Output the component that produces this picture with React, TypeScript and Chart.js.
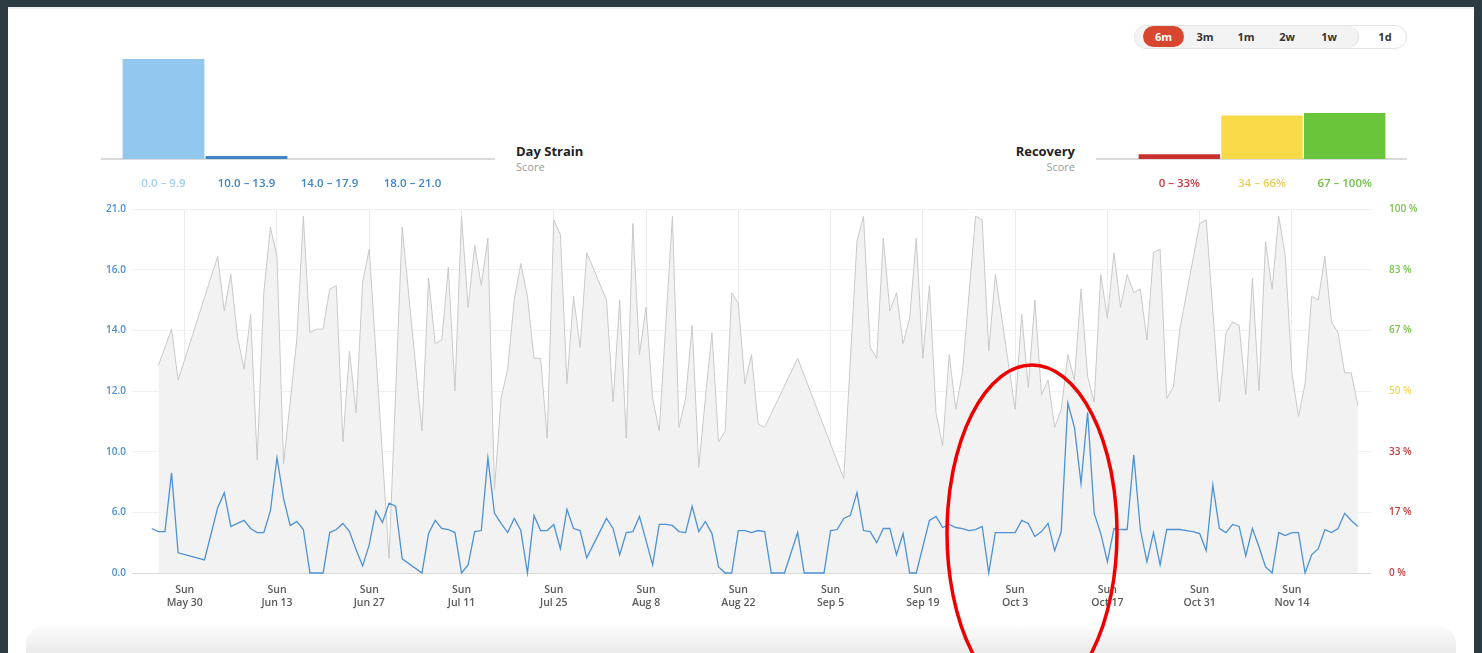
import React, { useEffect, useRef } from 'react';
import { Chart, registerables, LinearScale } from 'chart.js';

Chart.register(...registerables);

const FONT = "'Open Sans', 'Noto Sans', sans-serif";

// ---------- histogram data ----------
const STRAIN_BUCKETS = ['0.0 – 9.9', '10.0 – 13.9', '14.0 – 17.9', '18.0 – 21.0'];
const STRAIN_COUNTS = [170, 5, 0, 0];
const RECOVERY_BUCKETS = ['0 – 33%', '34 – 66%', '67 – 100%'];
const RECOVERY_COUNTS = [8, 74, 78];
const HIST_MAX = Math.max(...STRAIN_COUNTS);

// ---------- axis tick labels ----------
const STRAIN_TICKS = [0, 6, 10, 12, 14, 16, 21];
const RECOVERY_TICK_LABELS = ['0 %', '17 %', '33 %', '50 %', '67 %', '83 %', '100 %'];
const SUNDAY_TICKS = ['May 30', 'Jun 13', 'Jun 27', 'Jul 11', 'Jul 25', 'Aug 8', 'Aug 22', 'Sep 5', 'Sep 19', 'Oct 3', 'Oct 17', 'Oct 31', 'Nov 14'];

// ---------- daily categories (May 22 – Nov 26, 2021) ----------
const MONTHS = ['Jan', 'Feb', 'Mar', 'Apr', 'May', 'Jun', 'Jul', 'Aug', 'Sep', 'Oct', 'Nov', 'Dec'];
const DAY_COUNT = 189;
const DAYS = Array.from({ length: DAY_COUNT }, (_, i) => {
  const d = new Date(2021, 4, 22 + i);
  return `${MONTHS[d.getMonth()]} ${d.getDate()}`;
});
const DATA_START = 'May 25';

// ---------- series (daily from May 25 to Nov 24) ----------
const DAY_STRAIN: (number | null)[] = [
  4.4, 4.1, 4.1, 8.6, 2.0, null, null, null, 1.3, null,
  6.3, 7.3, 4.6, 4.9, 5.2, 4.4, 4.0, 4.0, 6.1, 9.6,
  6.9, 4.7, 5.1, 4.3, 0, 0, 0, 4.0, 4.3, 4.9,
  4.1, 2.3, 0.7, 2.8, 6.1, 5.0, 6.6, 6.4, 1.4, null,
  null, 0, 3.9, 5.2, 4.4, 4.3, 4.0, 0, 0.8, 4.1,
  4.2, 9.6, 5.9, 4.9, 4.0, 5.4, 4.2, 0, 5.7, 4.2,
  4.2, 4.8, 2.4, 6.2, 4.4, 4.2, 1.5, null, null, 5.4,
  4.4, 1.8, 4.0, 4.1, 5.6, null, 0.8, 4.8, 4.8, 4.7,
  4.1, 4.0, 6.4, 4.1, 5.1, 3.9, 0.6, 0, 0, 4.2,
  4.2, 4.0, 4.2, 4.1, 0, 0, 0, null, 4.0, 0,
  0, 0, 0, 4.2, 4.3, 5.4, 5.7, 7.3, 4.2, 4.1,
  3.0, 4.4, 4.4, 1.8, 3.9, 0, 0, null, 5.2, 5.6,
  4.5, 4.8, 4.5, 4.4, 4.2, 4.3, 4.6, 0, 4.0, 4.0,
  4.0, 4.0, 5.2, 4.9, 3.6, 4.1, 4.9, 2.2, 4.1, 11.6,
  10.8, 7.9, 11.3, 5.9, 3.9, 1.1, 4.4, 4.3, 4.3, 9.8,
  4.3, 1.1, 4.0, 0.8, 4.3, 4.3, 4.3, 4.2, 4.1, 3.9,
  2.2, 7.8, 4.4, 4.0, 4.8, 4.6, 1.7, 4.4, 2.6, 0.6,
  0, 4.0, 3.7, 4.0, 4.0, 0, 1.8, 2.4, 4.3, 4.0,
  4.4, 5.9, 5.2, 4.6,
];

const RECOVERY: (number | null)[] = [
  null, 57, null, 67, 53, null, null, null, null, null,
  87, 72, 82, 65, 56, 71, 31, 77, 95, 87,
  30, null, 64, 98, 66, 67, 67, 78, 79, 36,
  61, 44, 80, 89, null, null, 4, null, 95, null,
  null, 39, 81, 63, 64, 84, 50, 98, 73, 90,
  79, 92, 23, 48, 56, 75, 85, 76, 59, 59,
  37, 97, 93, 52, 76, 62, 88, null, null, 75,
  47, 75, 37, 96, 60, 73, 48, 39, null, 98,
  40, 48, 68, 29, 48, 66, 36, 39, 77, 74,
  52, 60, 41, 40, null, null, null, null, 59, null,
  null, null, null, null, null, 26, null, 91, 98, 62,
  59, 92, 72, 77, 63, 70, 92, 59, 79, 44,
  35, 60, 45, 55, null, 98, 97, 61, 82, null,
  null, 45, 71, 51, 75, 49, 53, 40, 45, 60,
  53, 78, 54, 47, 82, 70, 88, 73, 82, 77,
  78, 64, 88, 89, 48, 51, 67, null, null, 96,
  97, null, 47, 66, 69, 68, 49, 81, 50, 91,
  78, 98, 87, 55, 43, 52, 76, 75, 87, 69,
  66, 55, 55, 46,
];

// ---------- colours ----------
const STRAIN_BAR_COLORS = ['#92c8ef', '#3f85c5', '#3f85c5', '#3f85c5'];
const STRAIN_LABEL_COLORS = ['#a3cfee', '#3e86c7', '#3e86c7', '#3e86c7'];
const RECOVERY_BAR_COLORS = ['#c9302f', '#f8da47', '#6bc53c'];
const RECOVERY_LABEL_COLORS = ['#c53a3f', '#e8cf5c', '#73c04b'];
const RECOVERY_TICK_COLORS = ['#c33c3f', '#c33c3f', '#c33c3f', '#f1d75e', '#7cc250', '#7cc250', '#7cc250'];

// piecewise strain axis: ticks evenly spaced
class StrainScale extends LinearScale {
  static id = 'strain';
  buildTicks() {
    (this as any).start = (this as any).min;
    (this as any).end = (this as any).max;
    return STRAIN_TICKS.map((v) => ({ value: v }));
  }
  getPixelForValue(value: number) {
    if (value === null || value === undefined || isNaN(value)) return NaN;
    const t = STRAIN_TICKS;
    const n = t.length - 1;
    let i = 0;
    while (i < n - 1 && value > t[i + 1]) i++;
    const frac = (i + (value - t[i]) / (t[i + 1] - t[i])) / n;
    return (this as any).getPixelForDecimal(frac);
  }
  getValueForPixel(pixel: number) {
    const n = STRAIN_TICKS.length - 1;
    const dec = (this as any).getDecimalForPixel(pixel) * n;
    const i = Math.max(0, Math.min(n - 1, Math.floor(dec)));
    return STRAIN_TICKS[i] + (dec - i) * (STRAIN_TICKS[i + 1] - STRAIN_TICKS[i]);
  }
}
Chart.register(StrainScale as any);

function padSeries(values: (number | null)[]) {
  const lead = DAYS.indexOf(DATA_START);
  const out: (number | null)[] = DAYS.map(() => null);
  values.forEach((v, i) => { out[lead + i] = v; });
  return out;
}

function histConfig(labels: string[], values: number[], barColors: string[], labelColors: string[]): any {
  return {
    type: 'bar',
    data: {
      labels,
      datasets: [{ data: values, backgroundColor: barColors, borderWidth: 0, barPercentage: 0.985, categoryPercentage: 1 }],
    },
    options: {
      responsive: false,
      animation: false,
      devicePixelRatio: 1,
      layout: { padding: { top: 10, left: 0, right: 0, bottom: 0 } },
      plugins: { legend: { display: false }, tooltip: { enabled: false } },
      scales: {
        x: {
          grid: { display: false },
          border: { display: false },
          ticks: {
            autoSkip: false, maxRotation: 0, padding: 10,
            color: (ctx: any) => labelColors[ctx.index],
            font: { family: FONT, size: 11.5, weight: '600' },
          },
          afterFit: (s: any) => { s.height = 35; },
        },
        y: { display: false, min: 0, max: HIST_MAX },
      },
    },
  };
}

function mainConfig(): any {
  return {
    type: 'line',
    data: {
      labels: DAYS,
      datasets: [
        {
          label: 'Day Strain', data: padSeries(DAY_STRAIN), yAxisID: 'y',
          borderColor: '#4d92d2', borderWidth: 1.3, pointRadius: 0, fill: false,
          spanGaps: true, tension: 0, clip: 4,
        },
        {
          label: 'Recovery', data: padSeries(RECOVERY), yAxisID: 'y1',
          borderColor: '#c9c9c9', borderWidth: 1, backgroundColor: '#f2f2f2', fill: 'origin',
          pointRadius: 0, spanGaps: true, tension: 0,
        },
      ],
    },
    options: {
      responsive: false,
      animation: false,
      devicePixelRatio: 1,
      layout: { padding: { left: 92, right: 51, top: 19, bottom: 0 } },
      plugins: { legend: { display: false }, tooltip: { enabled: false } },
      scales: {
        x: {
          type: 'category',
          grid: {
            drawTicks: false,
            color: (ctx: any) => (SUNDAY_TICKS.includes(DAYS[ctx.index]) ? '#ececec' : 'rgba(0,0,0,0)'),
          },
          border: { display: false },
          ticks: {
            autoSkip: false, maxRotation: 0, minRotation: 0, padding: 11,
            color: '#5a5a5a',
            font: { family: FONT, size: 10.5, weight: '600' },
            callback: (_v: any, i: number) => (SUNDAY_TICKS.includes(DAYS[i]) ? ['Sun', DAYS[i]] : ''),
          },
          afterFit: (s: any) => { s.height = 40; },
        },
        y: {
          type: 'strain',
          position: 'left',
          min: 0,
          max: 21,
          grid: { drawTicks: false, color: (ctx: any) => (ctx.index === 0 ? '#dcdcdc' : '#f1f1f1') },
          border: { display: false },
          ticks: {
            padding: 6,
            color: '#4b8fcd',
            font: { family: FONT, size: 10, weight: '600' },
            callback: (v: any) => Number(v).toFixed(1),
          },
          afterFit: (s: any) => { s.width = 40; },
        },
        y1: {
          type: 'linear',
          position: 'right',
          min: 0,
          max: 100,
          afterBuildTicks: (s: any) => {
            s.ticks = RECOVERY_TICK_LABELS.map((_, i) => ({ value: (i * 100) / (RECOVERY_TICK_LABELS.length - 1) }));
          },
          grid: { display: false },
          border: { display: false },
          ticks: {
            padding: 10,
            color: (ctx: any) => RECOVERY_TICK_COLORS[ctx.index],
            font: { family: FONT, size: 10, weight: '600' },
            callback: (_v: any, i: number) => RECOVERY_TICK_LABELS[i],
          },
          afterFit: (s: any) => { s.width = 60; },
        },
      },
    },
  };
}

const RANGE_BUTTONS = [
  { label: '3m', x: 1205 },
  { label: '1m', x: 1246 },
  { label: '2w', x: 1287 },
  { label: '1w', x: 1329 },
  { label: '1d', x: 1385 },
];

export default function App() {
  const mainRef = useRef<HTMLCanvasElement>(null);
  const strainRef = useRef<HTMLCanvasElement>(null);
  const recRef = useRef<HTMLCanvasElement>(null);

  useEffect(() => {
    const charts = [
      new Chart(mainRef.current as HTMLCanvasElement, mainConfig()),
      new Chart(strainRef.current as HTMLCanvasElement, histConfig(STRAIN_BUCKETS, STRAIN_COUNTS, STRAIN_BAR_COLORS, STRAIN_LABEL_COLORS)),
      new Chart(recRef.current as HTMLCanvasElement, histConfig(RECOVERY_BUCKETS, RECOVERY_COUNTS, RECOVERY_BAR_COLORS, RECOVERY_LABEL_COLORS)),
    ];
    return () => charts.forEach((c) => c.destroy());
  }, []);

  const abs = (s: React.CSSProperties): React.CSSProperties => ({ position: 'absolute', ...s });

  return (
    <div style={abs({ left: 0, top: 0, width: 1482, height: 653, background: '#2c3a42', overflow: 'hidden', fontFamily: FONT })}>
      {/* card */}
      <div style={abs({ left: 8, top: 7, width: 1466, height: 646, background: '#ffffff', borderTop: '2px solid #f1f1f1' })} />
      {/* bottom shadow band */}
      <div style={abs({ left: 26, top: 627, width: 1430, height: 26, background: 'linear-gradient(#fbfbfb, #eaeaea)', borderRadius: '16px 16px 0 0' })} />

      {/* range selector */}
      <div style={abs({ left: 1134, top: 25, width: 271, height: 22, border: '1px solid #e3e3e3', borderRadius: 12, background: '#ffffff' })} />
      <div style={abs({ left: 1135, top: 26, width: 223, height: 22, borderRadius: 11, background: '#f3f3f3', borderRight: '1px solid #e0e0e0' })} />
      <div style={abs({ left: 1143, top: 26, width: 41, height: 21, borderRadius: 11, background: '#d8462f', color: '#fff', fontSize: 11, fontWeight: 700, lineHeight: '21px', textAlign: 'center' })}>6m</div>
      {RANGE_BUTTONS.map((b) => (
        <div key={b.label} style={abs({ left: b.x - 20, top: 26, width: 40, height: 21, lineHeight: '21px', textAlign: 'center', fontSize: 11, fontWeight: 700, color: '#333' })}>{b.label}</div>
      ))}

      {/* histogram baselines */}
      <div style={abs({ left: 101, top: 158, width: 394, height: 1.5, background: '#dadada' })} />
      <div style={abs({ left: 1096, top: 158, width: 311, height: 1.5, background: '#dadada' })} />

      <canvas ref={strainRef} width={332} height={145} style={abs({ left: 122, top: 49, width: 332, height: 145 })} />
      <canvas ref={recRef} width={248} height={145} style={abs({ left: 1138, top: 49, width: 248, height: 145 })} />

      {/* titles */}
      <div style={abs({ left: 516, top: 142, fontSize: 13, fontWeight: 700, color: '#222', lineHeight: '18px' })}>Day Strain</div>
      <div style={abs({ left: 516, top: 160, fontSize: 11, color: '#9b9b9b', lineHeight: '14px' })}>Score</div>
      <div style={abs({ left: 935, width: 140, top: 142, fontSize: 13, fontWeight: 700, color: '#222', lineHeight: '18px', textAlign: 'right' })}>Recovery</div>
      <div style={abs({ left: 935, width: 140, top: 160, fontSize: 11, color: '#9b9b9b', lineHeight: '14px', textAlign: 'right' })}>Score</div>

      <canvas ref={mainRef} width={1482} height={423} style={abs({ left: 0, top: 190, width: 1482, height: 423 })} />

      {/* annotation */}
      <svg width={1482} height={653} style={abs({ left: 0, top: 0, pointerEvents: 'none' })}>
        <ellipse cx={1032} cy={533} rx={85} ry={168} fill="none" stroke="#ee0000" strokeWidth={3.5} />
      </svg>
    </div>
  );
}
